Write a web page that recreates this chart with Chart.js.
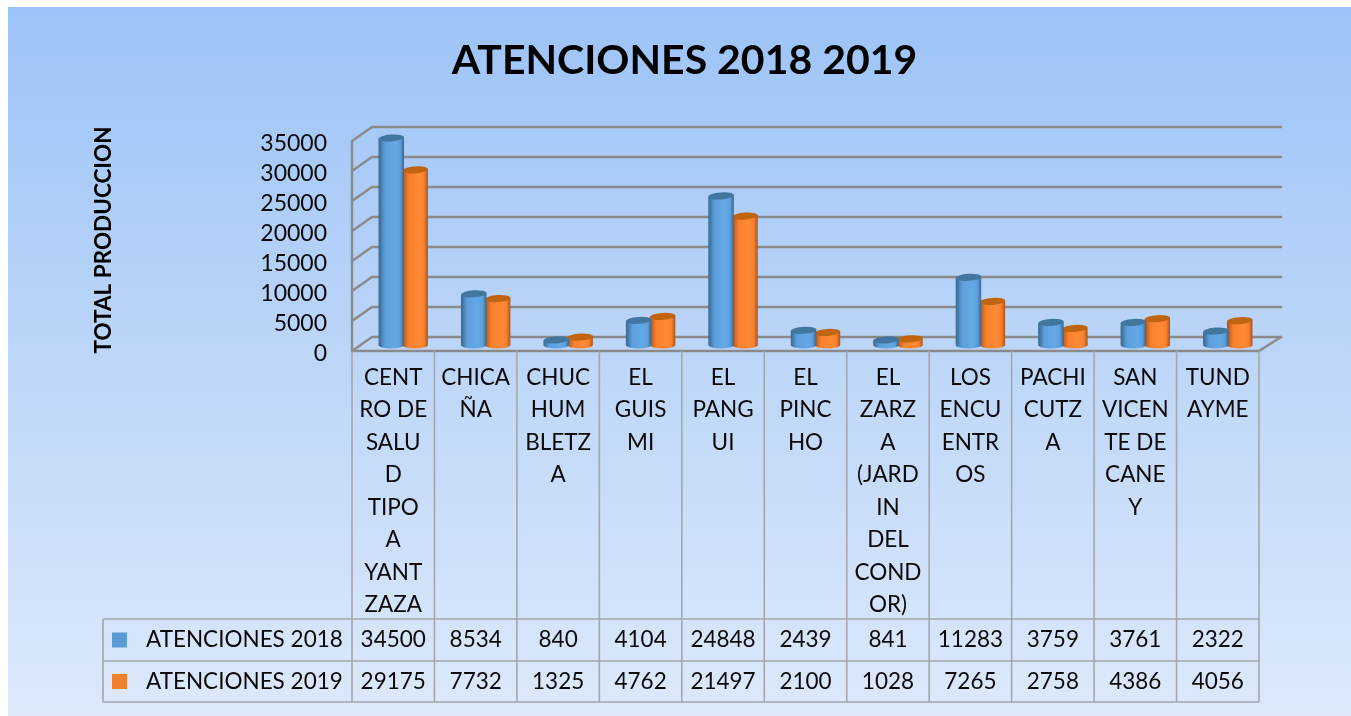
<!DOCTYPE html>
<html>
<head>
<meta charset="utf-8">
<title>ATENCIONES 2018 2019</title>
<script src="https://cdn.jsdelivr.net/npm/chart.js@4/dist/chart.umd.js"></script>
<style>
  html, body { margin: 0; padding: 0; background: #fff; overflow: hidden; }
  canvas { display: block; }
</style>
</head>
<body>
<canvas id="chart" width="1351" height="716"></canvas>
<script>
// category labels are wrapped the same way the cells wrap them
const categories = [
  ['CENT', 'RO DE', 'SALU', 'D', 'TIPO', 'A', 'YANT', 'ZAZA'],
  ['CHICA', 'ÑA'],
  ['CHUC', 'HUM', 'BLETZ', 'A'],
  ['EL', 'GUIS', 'MI'],
  ['EL', 'PANG', 'UI'],
  ['EL', 'PINC', 'HO'],
  ['EL', 'ZARZ', 'A', '(JARD', 'IN', 'DEL', 'COND', 'OR)'],
  ['LOS', 'ENCU', 'ENTR', 'OS'],
  ['PACHI', 'CUTZ', 'A'],
  ['SAN', 'VICEN', 'TE DE', 'CANE', 'Y'],
  ['TUND', 'AYME']
];
const atenciones2018 = [34500, 8534, 840, 4104, 24848, 2439, 841, 11283, 3759, 3761, 2322];
const atenciones2019 = [29175, 7732, 1325, 4762, 21497, 2100, 1028, 7265, 2758, 4386, 4056];
const seriesNames = ['ATENCIONES 2018', 'ATENCIONES 2019'];
const titleText = 'ATENCIONES 2018 2019';
const yTitleText = 'TOTAL PRODUCCION';

const FONT = 'Lato';
const BLUE = '#5b9bd5';
const ORANGE = '#f07f2e';
const GRID = '#8a8a8a';
const CELL = '#a3a7ad';

// the floor runs from the front edge to the back wall, bars stand half way
const FRONT = { dx: -10, dy: 6 };
const BACK = { dx: 10, dy: -8 };
const ROWS = [619, 661, 702];
const TABLE_LEFT = 103;

const shades = {
  [BLUE]: { edge: '#38678f', mid: '#5d9fdc', light: '#64a8e6', top: '#41779f' },
  [ORANGE]: { edge: '#a9541a', mid: '#f8802e', light: '#ff8a35', top: '#c0640f' }
};

// bars are cylinders here, the scales still decide where they go
Chart.BarElement.prototype.draw = function (ctx) {
  const { x, y, base, width } = this.getProps(['x', 'y', 'base', 'width'], true);
  const s = shades[this.options.backgroundColor];
  const rx = width / 2 + 0.8;
  const ry = 3.5;
  const tilt = -0.07;
  const left = x - rx;
  const right = x + rx;

  const g = ctx.createLinearGradient(left, 0, right, 0);
  g.addColorStop(0, s.edge);
  g.addColorStop(0.25, s.mid);
  g.addColorStop(0.65, s.light);
  g.addColorStop(0.85, s.mid);
  g.addColorStop(1, s.edge);

  ctx.save();
  ctx.fillStyle = g;
  ctx.beginPath();
  ctx.moveTo(left, y + 1);
  ctx.lineTo(left, base);
  ctx.ellipse(x, base, rx, ry, 0, Math.PI, 0, true);
  ctx.lineTo(right, y - 1);
  ctx.closePath();
  ctx.fill();
  ctx.fillStyle = s.top;
  ctx.beginPath();
  ctx.ellipse(x, y, rx, ry, tilt, 0, Math.PI * 2);
  ctx.fill();
  ctx.restore();
};

const backdrop = {
  id: 'backdrop',
  beforeDraw(chart) {
    const ctx = chart.ctx;
    const g = ctx.createLinearGradient(0, 7, 0, 716);
    g.addColorStop(0, '#9cc3f7');
    g.addColorStop(0.5, '#bdd6f8');
    g.addColorStop(1, '#dde9fb');
    ctx.fillStyle = g;
    ctx.fillRect(8, 7, chart.width - 8, chart.height - 7);
  }
};

// back wall, side wall and floor, drawn from the value scale
const walls = {
  id: 'walls',
  beforeDatasetsDraw(chart) {
    const ctx = chart.ctx;
    const { x: xs, y: ys } = chart.scales;
    const leftFront = xs.left + FRONT.dx;
    const leftBack = xs.left + BACK.dx;
    const rightFront = xs.right + FRONT.dx;
    const rightBack = xs.right + 12;
    ctx.save();
    ctx.strokeStyle = GRID;
    ctx.lineWidth = 2.4;
    ctx.lineCap = 'round';
    ys.ticks.forEach(t => {
      const py = ys.getPixelForValue(t.value);
      ctx.beginPath();
      ctx.moveTo(leftFront, py + FRONT.dy);
      ctx.lineTo(leftBack, py + BACK.dy);
      ctx.lineTo(rightBack, py + BACK.dy);
      ctx.stroke();
    });
    const zero = ys.getPixelForValue(0);
    const top = ys.getPixelForValue(ys.max);
    ctx.beginPath();
    ctx.moveTo(leftFront, top + FRONT.dy);
    ctx.lineTo(leftFront, zero + FRONT.dy);
    ctx.lineTo(rightFront, zero + FRONT.dy);
    ctx.lineTo(rightBack, zero + BACK.dy);
    ctx.stroke();
    ctx.restore();
  }
};

// data table under the axis: cell lines, legend keys and values
const dataTable = {
  id: 'dataTable',
  afterDraw(chart) {
    const ctx = chart.ctx;
    const { x: xs, y: ys } = chart.scales;
    const step = (xs.right - xs.left) / categories.length;
    const startX = xs.left + FRONT.dx;
    const endX = startX + step * categories.length;
    const axisY = ys.getPixelForValue(0) + FRONT.dy;

    ctx.save();
    ctx.strokeStyle = CELL;
    ctx.lineWidth = 1.6;
    ctx.beginPath();
    for (let i = 0; i <= categories.length; i++) {
      const px = startX + step * i;
      ctx.moveTo(px, axisY);
      ctx.lineTo(px, ROWS[2]);
    }
    ROWS.forEach(r => {
      ctx.moveTo(TABLE_LEFT, r);
      ctx.lineTo(endX, r);
    });
    ctx.moveTo(TABLE_LEFT, ROWS[0]);
    ctx.lineTo(TABLE_LEFT, ROWS[2]);
    ctx.stroke();

    ctx.font = '22.5px ' + FONT;
    ctx.fillStyle = '#0a0a0a';
    ctx.textBaseline = 'middle';
    chart.data.datasets.forEach((ds, r) => {
      const cy = (ROWS[r] + ROWS[r + 1]) / 2;
      ctx.fillStyle = ds.backgroundColor;
      ctx.fillRect(112, cy - 7.5, 15, 15);
      ctx.fillStyle = '#0a0a0a';
      ctx.textAlign = 'left';
      ctx.fillText(ds.label, 146, cy);
      ctx.textAlign = 'center';
      ds.data.forEach((v, i) => {
        ctx.fillText(String(v), startX + step * (i + 0.5), cy);
      });
    });
    ctx.restore();
  }
};

new Chart(document.getElementById('chart'), {
  type: 'bar',
  data: {
    labels: categories,
    datasets: [
      { label: seriesNames[0], data: atenciones2018, backgroundColor: BLUE, clip: false },
      { label: seriesNames[1], data: atenciones2019, backgroundColor: ORANGE, clip: false }
    ]
  },
  options: {
    responsive: false,
    animation: false,
    categoryPercentage: 0.58,
    barPercentage: 1,
    layout: { padding: { left: 100, right: 82, top: 0, bottom: 0 } },
    plugins: {
      legend: { display: false },
      tooltip: { enabled: false },
      title: {
        display: true,
        text: titleText,
        color: '#000',
        font: { family: FONT, size: 41, weight: 'bold', lineHeight: 1.2 },
        padding: { top: 36, bottom: 49.8 }
      }
    },
    scales: {
      x: {
        grid: { display: false, drawTicks: false },
        border: { display: false },
        afterFit(s) { s.height = 371; },
        ticks: {
          autoSkip: false,
          maxRotation: 0,
          minRotation: 0,
          padding: 16,
          labelOffset: -10,
          color: '#0a0a0a',
          font: { family: FONT, size: 22.5, lineHeight: '32.5px' }
        }
      },
      y: {
        min: 0,
        max: 35000,
        grid: { display: false, drawTicks: false },
        border: { display: false },
        afterFit(s) { s.width = 262; },
        title: {
          display: true,
          text: yTitleText,
          color: '#000',
          font: { family: FONT, size: 22.5, weight: 'bold', lineHeight: 1.2 },
          padding: { top: -10, bottom: 0 }
        },
        ticks: {
          autoSkip: false,
          stepSize: 5000,
          padding: 35,
          labelOffset: 9,
          color: '#0a0a0a',
          font: { family: FONT, size: 23 },
          callback: v => String(v)
        }
      }
    }
  },
  plugins: [backdrop, walls, dataTable]
});
</script>
</body>
</html>
